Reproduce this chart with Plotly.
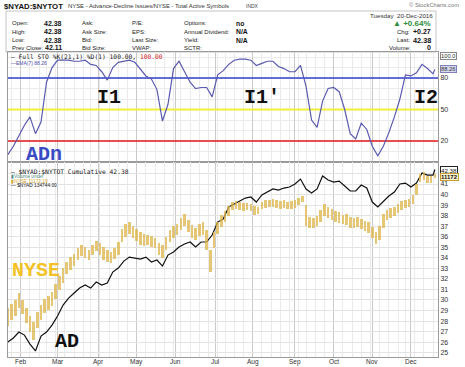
import numpy as np
import pandas as pd
import plotly.graph_objects as go

# ---------------- calendar (trading days) ----------------
holidays = ["2016-02-15", "2016-03-25", "2016-05-30", "2016-07-04", "2016-09-05", "2016-11-24"]
days = pd.bdate_range("2016-01-21", "2016-12-20")
days = days[~days.isin(pd.to_datetime(holidays))]
n_days = len(days)

month_labels = ["Feb", "Mar", "Apr", "May", "Jun", "Jul", "Aug", "Sep", "Oct", "Nov", "Dec"]

# ---------------- data ----------------
# sampled every 3rd trading day + last day
sto_ema7 = [7, 15, 25, 35, 43, 27, 38, 76, 90, 97,
            97, 97, 96, 96, 97, 93, 92, 86, 78, 90,
            95, 96, 97, 95, 88, 82, 79, 69, 39, 55,
            89, 96, 86, 76, 70, 71, 71, 62, 83, 87,
            93, 97, 98, 98, 97, 92, 94, 96, 96, 91,
            89, 86, 86, 92, 72, 40, 33, 58, 70, 71,
            67, 50, 27, 22, 37, 31, 15, 6, 15, 28,
            43, 60, 83, 82, 85, 93, 89, 84, 88.26]

ad_cumulative = [26.01, 26.39, 26.96, 26.67, 25.82, 25.16, 26.58, 26.96, 27.62, 28.48,
                 29.52, 30.18, 30.66, 31.13, 31.42, 31.13, 31.70, 31.42, 31.61, 32.65,
                 33.03, 33.69, 34.07, 33.98, 33.88, 34.07, 33.60, 33.79, 33.22, 34.26,
                 34.55, 35.02, 35.31, 35.50, 35.02, 35.50, 35.50, 36.16, 37.39, 37.68,
                 38.82, 39.10, 39.39, 39.67, 39.77, 39.29, 39.96, 40.24, 40.53, 40.43,
                 40.62, 40.72, 41.00, 41.47, 40.53, 40.15, 40.53, 41.76, 41.38, 41.19,
                 41.28, 40.81, 40.34, 40.34, 40.91, 40.62, 39.29, 38.82, 39.39, 39.86,
                 40.24, 41.00, 41.09, 40.72, 41.09, 42.04, 41.85, 41.85, 42.38]

# NYSE composite high / low, sampled every 2nd trading day
nyse_high = [9496, 9546, 9597, 9686, 9597, 9496, 9394, 9318, 9445, 9534,
             9610, 9648, 9699, 9800, 9902, 10004, 10080, 10143, 10181, 10258,
             10296, 10270, 10232, 10296, 10347, 10321, 10270, 10232, 10207, 10258,
             10334, 10499, 10562, 10588, 10537, 10499, 10461, 10435, 10423, 10410,
             10385, 10321, 10296, 10397, 10486, 10537, 10562, 10639, 10689, 10613,
             10550, 10512, 10562, 10588, 10486, 10232, 10461, 10588, 10677, 10728,
             10791, 10842, 10855, 10842, 10829, 10829, 10816, 10791, 10778, 10842,
             10867, 10867, 10880, 10867, 10855, 10867, 10842, 10855, 10867, 10893,
             10918, 10804, 10651, 10639, 10664, 10740, 10816, 10778, 10753, 10728,
             10715, 10677, 10689, 10651, 10639, 10651, 10626, 10601, 10588, 10524,
             10461, 10537, 10689, 10740, 10766, 10778, 10816, 10855, 10867, 10880,
             10931, 11070, 11197, 11223, 11172, 11172, 11197]
nyse_low = [9267, 9343, 9394, 9496, 9419, 9305, 9191, 9089, 9242, 9343,
            9432, 9470, 9521, 9610, 9724, 9813, 9928, 9978, 10029, 10105,
            10156, 10131, 10105, 10169, 10220, 10169, 10105, 10080, 10067, 10118,
            10169, 10334, 10397, 10435, 10385, 10347, 10296, 10283, 10296, 10270,
            10258, 10169, 10131, 10232, 10334, 10385, 10423, 10486, 10537, 10461,
            10385, 10359, 10410, 10423, 10232, 9953, 10258, 10435, 10524, 10588,
            10664, 10740, 10753, 10740, 10728, 10740, 10728, 10677, 10689, 10753,
            10766, 10778, 10778, 10766, 10753, 10766, 10753, 10753, 10766, 10804,
            10842, 10537, 10512, 10512, 10537, 10588, 10664, 10639, 10613, 10588,
            10575, 10562, 10550, 10512, 10512, 10524, 10499, 10474, 10448, 10385,
            10308, 10359, 10512, 10613, 10639, 10664, 10702, 10740, 10766, 10778,
            10816, 10931, 11096, 11121, 11083, 11083, 11147]

sto_levels = [80, 50, 20]
sto_level_colors = ["#2f3fcf", "#f2ee3a", "#e01818"]
ad_ticks = list(range(25, 43))

# ---------------- positions ----------------
samp3 = list(range(0, n_days, 3)) + [n_days - 1]
samp2 = list(range(0, n_days, 2))
dser = pd.Series(np.arange(n_days), index=days)
month_idx = [int(dser[dser.index.month == m].iloc[0]) for m in range(2, 13)]
iso = days.isocalendar()
week_idx = [int(i) for i in pd.Series(np.arange(n_days)).groupby(iso.week.values).min().values]

W, H = 465, 367
def px(x):
    return x / W
def py(y):
    return 1 - y / H

FONT = "Liberation Sans"
MONO = "Liberation Mono"
xr = [-0.2, 233.7]

fig = go.Figure()

# STO level lines (span the whole axis range)
for lv, col in zip(sto_levels, sto_level_colors):
    fig.add_trace(go.Scatter(x=xr, y=[lv, lv], mode="lines",
                             line=dict(color=col, width=1.8 if lv == 50 else 1.5),
                             xaxis="x", yaxis="y", hoverinfo="skip"))

# top panel: EMA(7) of stochastics
fig.add_trace(go.Scatter(x=samp3, y=sto_ema7, mode="lines",
                         line=dict(color="#5a5ab0", width=1.2),
                         xaxis="x", yaxis="y", hoverinfo="skip"))

# NYSE high-low bars
nh = np.array(nyse_high, dtype=float)
nl = np.array(nyse_low, dtype=float)
fig.add_trace(go.Bar(x=samp2, y=nh - nl, base=nl, width=1.4,
                     marker=dict(color="rgba(220,180,72,0.75)", line=dict(width=0)),
                     xaxis="x2", yaxis="y3", hoverinfo="skip"))

# AD cumulative line
fig.add_trace(go.Scatter(x=samp3, y=ad_cumulative, mode="lines",
                         line=dict(color="#111111", width=1.2),
                         xaxis="x2", yaxis="y2", hoverinfo="skip"))

xdom = [px(7.5), px(438)]
grid_major = "#c9c9c9"
grid_minor = "#ebebeb"
tickfont = dict(family=FONT, size=7, color="#333")

xcommon = dict(range=xr, domain=xdom, tickmode="array", tickvals=month_idx,
               ticktext=month_labels, showgrid=True, gridcolor=grid_major, gridwidth=1,
               minor=dict(tickmode="array", tickvals=week_idx, showgrid=True,
                          gridcolor=grid_minor, gridwidth=1),
               showline=True, mirror=True, linecolor="#9a9a9a", linewidth=1,
               zeroline=False, ticks="", tickfont=tickfont, showticklabels=False)

fig.update_layout(
    width=W, height=H, autosize=False,
    margin=dict(l=0, r=0, t=0, b=0),
    paper_bgcolor="white", plot_bgcolor="white",
    showlegend=False, bargap=0,
    xaxis=dict(xcommon, anchor="y"),
    xaxis2=dict(xcommon, anchor="y2", matches="x"),
    yaxis=dict(domain=[py(162), py(52)], range=[0, 104.8], side="right",
               tickmode="array", tickvals=sto_levels, ticktext=[str(v) for v in sto_levels],
               showgrid=False,
               minor=dict(dtick=10, tick0=0, showgrid=True, gridcolor=grid_minor),
               showline=True, mirror=True, linecolor="#9a9a9a", zeroline=False,
               ticks="", tickfont=tickfont, anchor="x"),
    yaxis2=dict(domain=[py(357), py(162)], range=[24.59, 43.09], side="right",
                tickmode="array", tickvals=ad_ticks,
                ticktext=[str(v) if v <= 41 else "" for v in ad_ticks],
                showgrid=True, gridcolor="#e3e3e3",
                showline=True, mirror=True, linecolor="#9a9a9a", zeroline=False,
                ticks="", tickfont=tickfont, anchor="x2"),
    yaxis3=dict(overlaying="y2", range=[8873, 11350], visible=False, anchor="x2"),
)

# info box
fig.add_shape(type="rect", xref="paper", yref="paper", x0=px(6), x1=px(436), y0=py(52), y1=py(11),
              line=dict(color="#c4c4c4", width=1), layer="below")

anns = []
def txt(x, y, s, size=6.5, color="#222", anchor="left", bold=False, family=FONT, **kw):
    t = f"<b>{s}</b>" if bold else s
    anns.append(dict(x=px(x), y=py(y), xref="paper", yref="paper", text=t, showarrow=False,
                     xanchor=anchor, yanchor="middle",
                     font=dict(family=family, size=size, color=color), **kw))

# month labels under the lower panel
for mi, lab in zip(month_idx, month_labels):
    anns.append(dict(x=mi, y=py(361.5), xref="x2", yref="paper", text=lab, showarrow=False,
                     xanchor="center", yanchor="middle",
                     font=dict(family=FONT, size=6.5, color="#333")))

# header
txt(2, 6, "$NYAD:$NYTOT", size=7.8, color="#111", bold=True)
txt(66, 6.5, "NYSE - Advance-Decline Issues/NYSE - Total Active Symbols", size=5.9, color="#333")
txt(244, 6.5, "INDX", size=5, color="#444")
txt(461, 5, "© StockCharts.com", size=5.8, color="#777", anchor="right")

rows_y = [23, 32, 40, 48]
col1 = ["Open:", "High:", "Low:", "Prev Close:"]
col1v = ["42.38", "42.38", "42.38", "42.11"]
col2 = ["Ask:", "Ask Size:", "Bid:", "Bid Size:"]
col3 = ["P/E:", "EPS:", "Last Size:", "VWAP:"]
col4 = ["Options:", "Annual Dividend:", "Yield:", "SCTR:"]
col4v = ["no", "N/A", "N/A", ""]
for yy, a, av, b, c, d, dv in zip(rows_y, col1, col1v, col2, col3, col4, col4v):
    txt(10, yy, a, size=6)
    txt(64, yy, av, size=7, bold=True, anchor="right", color="#111")
    txt(80, yy, b, size=6)
    txt(130, yy, c, size=6)
    txt(182, yy, d, size=6)
    if dv:
        txt(234, yy, dv, size=6.8, bold=True, color="#111")

txt(435, 15, "Tuesday  20-Dec-2016", size=6.2, anchor="right", color="#333")
txt(433, 23.5, "▲ +0.64%", size=8, anchor="right", color="#2e8b3a", bold=True)
txt(395, 32, "Chg:", size=6)
txt(433, 32, "+0.27", size=7, anchor="right", bold=True, color="#111")
txt(395, 40, "Last:", size=6)
txt(433, 40, "42.38", size=7.3, anchor="right", bold=True, color="#111")
txt(387, 48, "Volume:", size=6)
txt(433, 48, "0", size=7, anchor="right", bold=True, color="#111")

# top panel legend
txt(9, 56.5, "— Full STO %K(21,1) %D(1) 100.00, <span style='color:#d42020'>100.00</span>",
    size=6.3, color="#222", family="DejaVu Sans Mono")
txt(9, 62.8, "—EMA(7) 88.26", size=5, color="#4a4aa8")

# lower panel legend
txt(9, 171.5, "— $NYAD:$NYTOT Cumulative 42.38", size=6.3, color="#222", family="DejaVu Sans Mono")
txt(9, 176.6, "▮Volume undef", size=4.8, color="#4f8a86")
txt(9, 181.0, "▮NYSE 11172.19", size=4.8, color="#d4a52a")
txt(9, 185.4, "— $NYAD 134744.00", size=4.8, color="#222")

# right value tags
txt(440, 56, "100.0", size=5.8, color="#333", bordercolor="#888", borderwidth=1, borderpad=0,
    bgcolor="white")
txt(440, 69, "88.26", size=5.8, color="#333", bordercolor="#8080b8", borderwidth=1, borderpad=0,
    bgcolor="#d6daf0")
txt(440, 170.5, "42.38", size=6.2, color="#111", bordercolor="#222", borderwidth=1, borderpad=0,
    bgcolor="white")
txt(440, 177, "<b>11172</b>", size=6, color="#111", bordercolor="#c9a030", borderwidth=1,
    borderpad=0, bgcolor="#fbf3cf")

# handwritten-style labels
txt(109, 98, "I1", size=20, color="#111", bold=True, family=MONO, anchor="center")
txt(262, 97, "I1'", size=20, color="#111", bold=True, family=MONO, anchor="center")
txt(426, 97, "I2", size=20, color="#111", bold=True, family=MONO, anchor="center")
txt(44, 154, "ADn", size=20, color="#3a4cc4", bold=True, family=MONO, anchor="center")
txt(36, 270, "NYSE", size=20, color="#f2c224", bold=True, family=MONO, anchor="center")
txt(67, 341, "AD", size=20, color="#111", bold=True, family=MONO, anchor="center")

fig.update_layout(annotations=anns)
fig.write_html("out.html", config={"displayModeBar": False, "staticPlot": True},
               post_script="document.body.style.margin='0';document.body.style.overflow='hidden';")
